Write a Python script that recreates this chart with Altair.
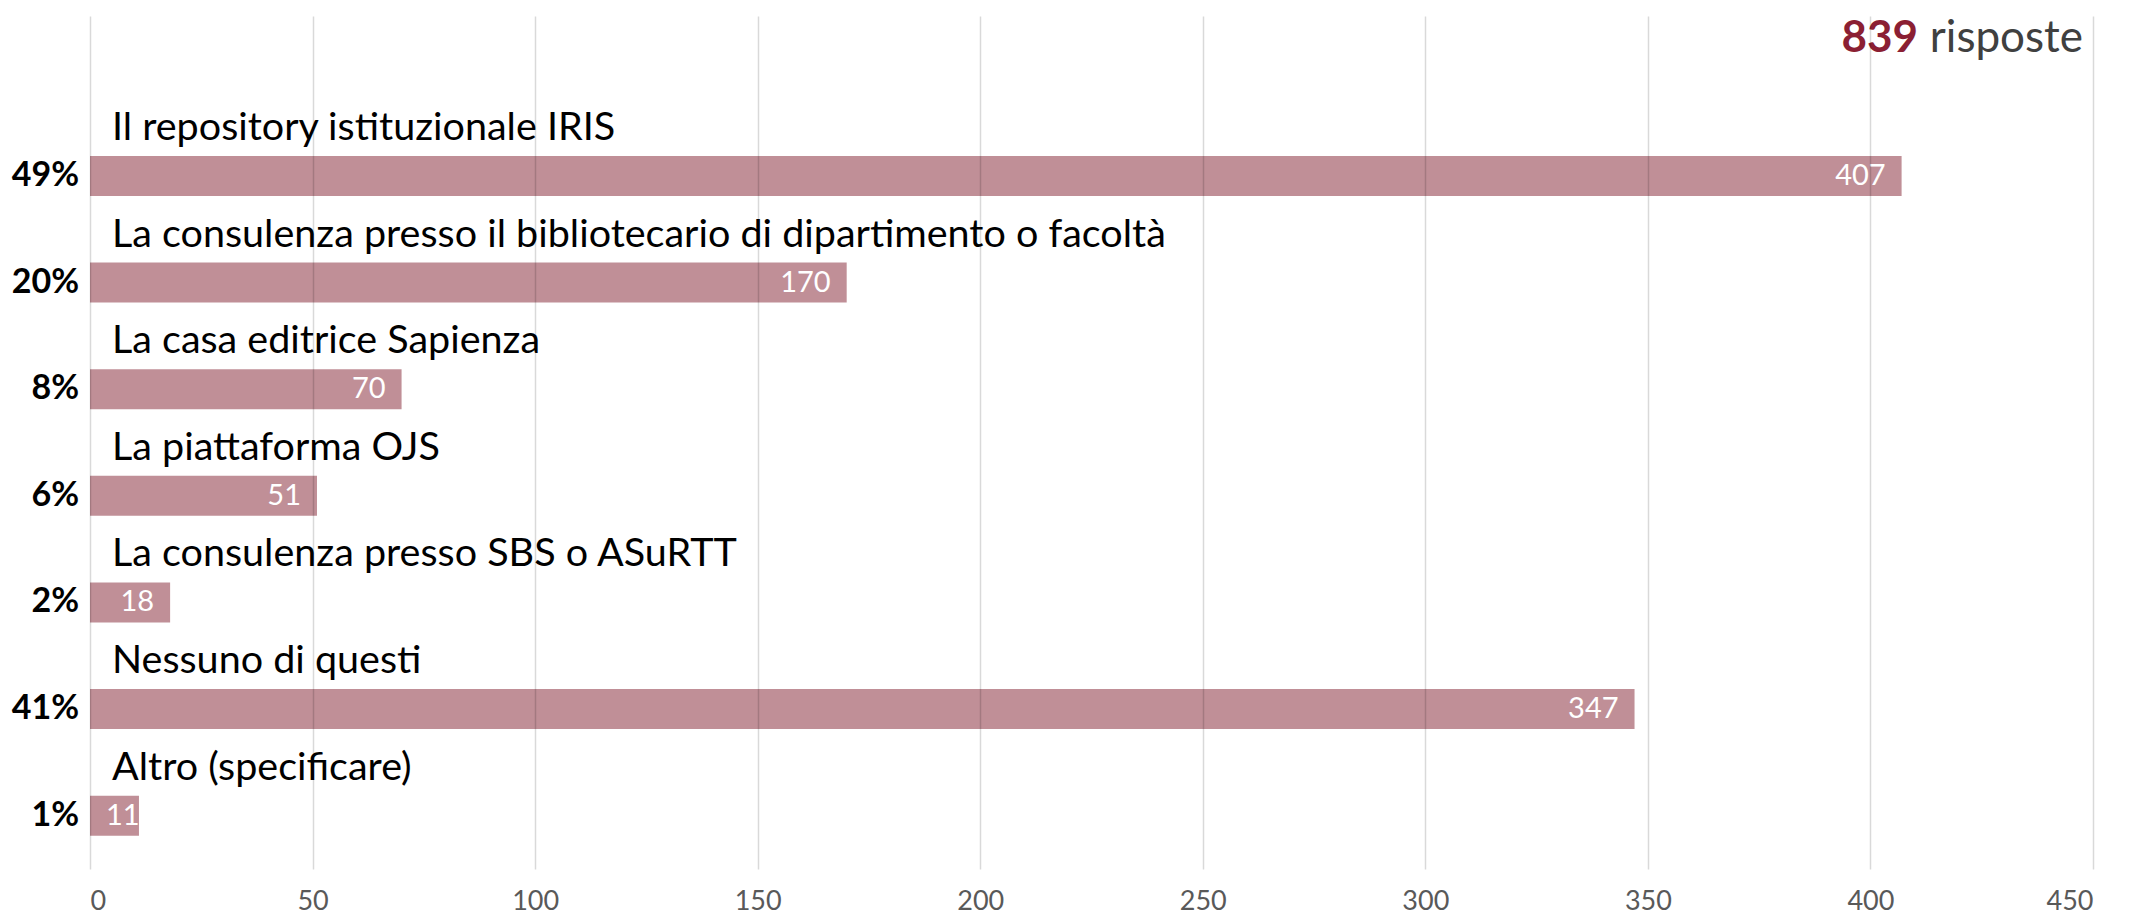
import altair as alt
import pandas as pd

categories = [
    "Il repository istituzionale IRIS",
    "La consulenza presso il bibliotecario di dipartimento o facoltà",
    "La casa editrice Sapienza",
    "La piattaforma OJS",
    "La consulenza presso SBS o ASuRTT",
    "Nessuno di questi",
    "Altro (specificare)",
]
counts = [407, 170, 70, 51, 18, 347, 11]
percents = ["49%", "20%", "8%", "6%", "2%", "41%", "1%"]
total_label = "839"
total_word = "risposte"

df = pd.DataFrame({"cat": categories, "value": counts, "pct": percents})

FONT = "Lato"
W, H = 2003, 853
domain = [" "] + categories

y_enc = alt.Y("cat:N", scale=alt.Scale(domain=domain, paddingInner=0, paddingOuter=0), axis=None)
x_scale = alt.Scale(domain=[0, 450], nice=False)

base = alt.Chart(df)

bars = base.mark_bar(color="#c08f97", size=40).encode(
    x=alt.X("value:Q", scale=x_scale,
            axis=alt.Axis(values=list(range(0, 451, 50)), grid=True, gridColor="#000000",
                          gridOpacity=0.15, gridWidth=1.5, domain=False, ticks=False,
                          labelFont=FONT, labelFontSize=27, labelColor="#595959",
                          labelBaseline="alphabetic", labelPadding=40,
                          title=None, zindex=1)),
    y=y_enc,
)

# value labels: inside the bar end; very short bars keep the label at the bar start
values_big = base.transform_filter("datum.value >= 15").mark_text(
    align="right", baseline="middle", dx=-16, color="white", font=FONT, fontSize=29).encode(
    x=alt.X("value:Q", scale=x_scale), y=y_enc, text="value:Q")
values_small = base.transform_filter("datum.value < 15").mark_text(
    align="left", baseline="middle", dx=16, color="white", font=FONT, fontSize=29).encode(
    x=alt.datum(0), y=y_enc, text="value:Q")

catlabels = base.mark_text(align="left", baseline="alphabetic", dx=22, dy=-36, color="#000000",
                           font=FONT, fontSize=39.5).encode(
    x=alt.datum(0), y=y_enc, text="cat:N")

pctlabels = base.mark_text(align="right", baseline="middle", dx=-11, color="#000000",
                           font=FONT, fontSize=34, fontWeight="bold").encode(
    x=alt.datum(0), y=y_enc, text="pct:N")

title_df = pd.DataFrame({"a": [total_label], "b": [total_word]})
t1 = alt.Chart(title_df).mark_text(align="right", baseline="alphabetic", font=FONT, fontSize=44,
                                   fontWeight="bold", color="#8b1f33").encode(
    x=alt.value(1828), y=alt.value(36), text="a:N")
t2 = alt.Chart(title_df).mark_text(align="right", baseline="alphabetic", font=FONT, fontSize=44,
                                   color="#404040").encode(
    x=alt.value(1993), y=alt.value(36), text="b:N")

chart = alt.layer(bars, values_big, values_small, catlabels, pctlabels, t1, t2).properties(
    width=W, height=H,
    autosize=alt.AutoSizeParams(type="none"),
    padding={"left": 82, "top": 8, "right": 36, "bottom": 47},
).configure_view(stroke=None)

chart.save("out.html", embed_options={"renderer": "svg", "actions": False})
